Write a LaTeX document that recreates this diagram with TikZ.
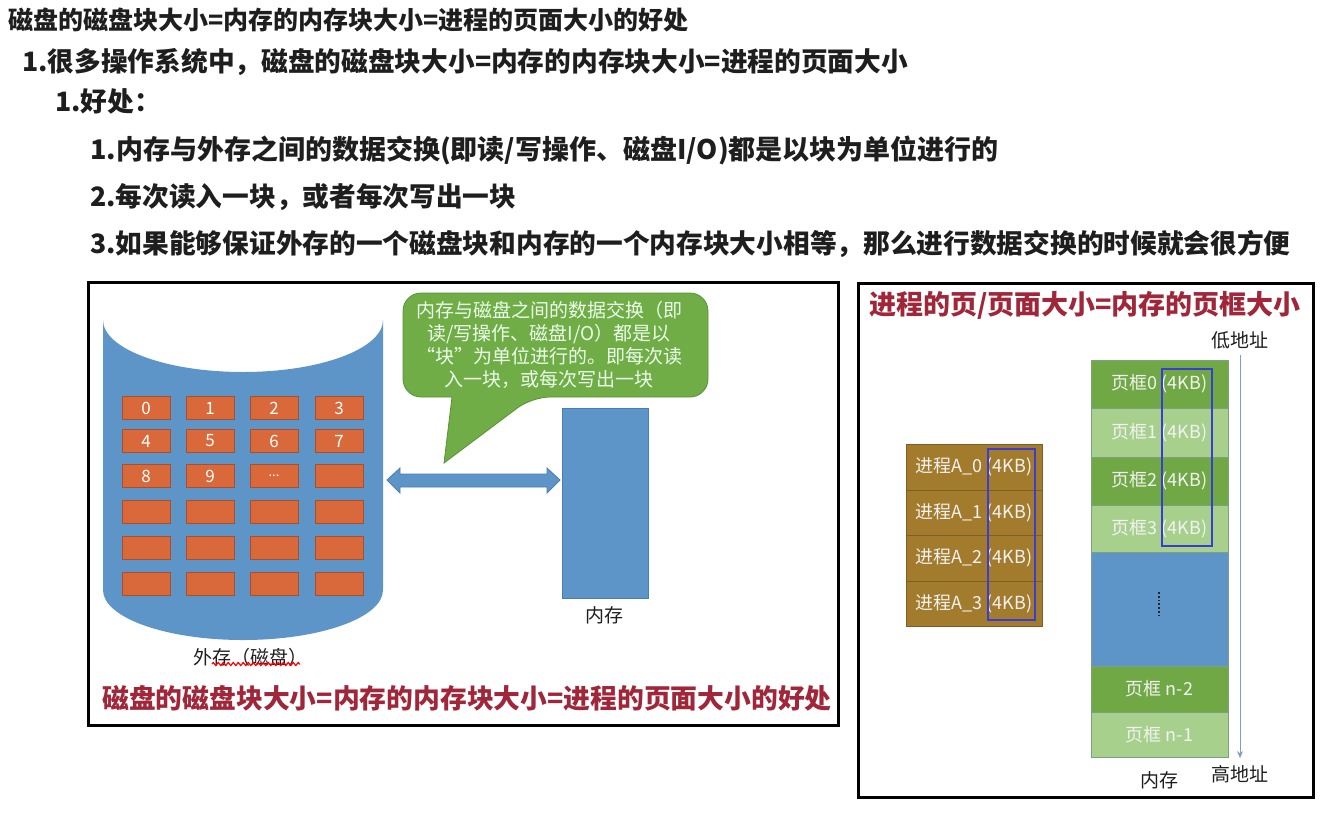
\documentclass[tikz,border=0pt]{standalone}
\usepackage{fontspec}
\setmainfont{Noto Sans CJK SC}
\usetikzlibrary{arrows.meta,decorations.pathmorphing}

\definecolor{diskblue}{HTML}{5E95C8}
\definecolor{diskedge}{HTML}{4A7DB0}
\definecolor{blkorange}{HTML}{D9693B}
\definecolor{blkedge}{HTML}{A9502A}
\definecolor{calloutgreen}{HTML}{70AD47}
\definecolor{calloutedge}{HTML}{5A8F38}
\definecolor{framedark}{HTML}{70A845}
\definecolor{framelight}{HTML}{A8D08D}
\definecolor{frameedge}{HTML}{7F9F80}
\definecolor{procbrown}{HTML}{A37B2C}
\definecolor{procedge}{HTML}{7E5E22}
\definecolor{hlblue}{HTML}{3B3BD6}
\definecolor{titlered}{HTML}{A0263A}
\definecolor{addrline}{HTML}{7F9FBF}
\definecolor{inktext}{HTML}{1E1E1E}

\tikzset{
    heading/.style={anchor=west, font=\bfseries\fontsize{26.7}{28}\selectfont, text=inktext, inner sep=0pt},
    blk/.style={draw=blkedge, fill=blkorange, minimum width=48pt, minimum height=23pt,
        inner sep=0pt, text=white, font=\fontsize{17}{18}\selectfont},
    frame/.style={draw=frameedge, minimum width=137pt, inner sep=0pt,
        text=white!95!black, font=\fontsize{18}{20}\selectfont},
    proc/.style={draw=procedge, fill=procbrown, minimum width=136pt, inner sep=0pt,
        text=white!95!black, font=\fontsize{18}{20}\selectfont},
    plain/.style={font=\fontsize{19}{21}\selectfont, text=inktext, inner sep=2pt},
    redtitle/.style={font=\bfseries\fontsize{26.8}{28}\selectfont, text=titlered, inner sep=0pt},
    hlbox/.style={draw=hlblue, line width=2.6pt},
    addr/.style={draw=addrline, line width=0.9pt, -{Stealth[length=7pt,width=6pt]}}
}

\begin{document}
\begin{tikzpicture}[x=1pt, y=-1pt]
    \useasboundingbox (0,0) rectangle (1321,812);

    % -------------------------------
    % 标题与要点
    % -------------------------------
    \node[heading, font=\bfseries\fontsize{25}{27}\selectfont] (h0) at (8,20) {磁盘的磁盘块大小=内存的内存块大小=进程的页面大小的好处};
    \node[heading] (h1) at (22,62) {1.很多操作系统中，磁盘的磁盘块大小=内存的内存块大小=进程的页面大小};
    \node[heading] (h2) at (55,101) {1.好处：};
    \node[heading, font=\bfseries\fontsize{27}{29}\selectfont] (h3) at (90,150) {1.内存与外存之间的数据交换(即读/写操作、磁盘I/O)都是以块为单位进行的};
    \node[heading] (h4) at (90,197) {2.每次读入一块，或者每次写出一块};
    \node[heading] (h5) at (90,244) {3.如果能够保证外存的一个磁盘块和内存的一个内存块大小相等，那么进行数据交换的时候就会很方便};

    % -------------------------------
    % 左图：外存与内存
    % -------------------------------
    \draw[line width=3pt] (88,282) rectangle (838,725);

    % 磁盘（圆柱）
    \fill[diskblue] (103,320) -- (103,590)
        arc[start angle=180, end angle=0, x radius=140, y radius=50]
        -- (383,320)
        arc[start angle=0, end angle=180, x radius=140, y radius=52] -- cycle;

    % 磁盘块
    \foreach \y [count=\r from 0] in {408,441,476,512,548,584} {
        \foreach \x [count=\c from 0] in {146,210,274,339} {
            \node[blk] (blk\r\c) at (\x,\y) {};
        }
    }
    \foreach \n in {0,...,9} {
        \pgfmathtruncatemacro{\r}{div(\n,4)}
        \pgfmathtruncatemacro{\c}{mod(\n,4)}
        \node[text=white, font=\fontsize{17}{18}\selectfont] at (blk\r\c) {\n};
    }
    \node[text=white, font=\fontsize{13}{14}\selectfont] at (blk22) {...};

    \node[plain] (disk) at (250,657) {外存（磁盘）};
    \draw[red, line width=1.2pt, decorate, decoration={zigzag, amplitude=1.5pt, segment length=5pt}]
        (212,664) -- (300,664);

    % 内存
    \node[draw=diskedge, fill=diskblue, minimum width=86pt, minimum height=190pt, inner sep=0pt]
        (mem) at (605,503) {};
    \node[plain] (memlbl) at (604,615) {内存};

    % 双向箭头
    \filldraw[fill=diskblue, draw=diskedge, line width=0.8pt]
        (387,480) -- (400,468) -- (400,474) -- (547,474) -- (547,468) -- (560,480)
        -- (547,493) -- (547,487) -- (400,487) -- (400,493) -- cycle;

    % 说明气泡
    \filldraw[fill=calloutgreen, draw=calloutedge, line width=0.8pt]
        (555,293) [rounded corners=18pt] -- (708,293) -- (708,397) -- (532,397)
        [sharp corners] -- (444,463) -- (452,397)
        [rounded corners=18pt] -- (403,397) -- (403,293) -- cycle;
    \node[text=white!92!green, font=\fontsize{19}{23.2}\selectfont, align=center]
        (note) at (549,345) {内存与磁盘之间的数据交换（即\\读/写操作、磁盘I/O）都是以\\“块”为单位进行的。即每次读\\入一块，或每次写出一块};

    \node[redtitle] (lefttitle) at (467,698) {磁盘的磁盘块大小=内存的内存块大小=进程的页面大小的好处};

    % -------------------------------
    % 右图：页与页框
    % -------------------------------
    \draw[line width=3pt] (858,283) rectangle (1313,797);
    \node[redtitle, font=\bfseries\fontsize{27}{29}\selectfont] (righttitle) at (1085,305) {进程的页/页面大小=内存的页框大小};

    % 进程的页
    \node[proc, minimum height=46pt] (p0) at (974,467)   {进程A\_0 (4KB)};
    \node[proc, minimum height=45pt] (p1) at (974,512.5) {进程A\_1 (4KB)};
    \node[proc, minimum height=46pt] (p2) at (974,558)   {进程A\_2 (4KB)};
    \node[proc, minimum height=45pt] (p3) at (974,603.5) {进程A\_3 (4KB)};

    % 内存的页框
    \node[frame, fill=framedark,  minimum height=48pt] (f0) at (1159.5,384)   {页框0 (4KB)};
    \node[frame, fill=framelight, minimum height=49pt] (f1) at (1159.5,432.5) {页框1 (4KB)};
    \node[frame, fill=framedark,  minimum height=48pt] (f2) at (1159.5,481)   {页框2 (4KB)};
    \node[frame, fill=framelight, minimum height=47pt] (f3) at (1159.5,528.5) {页框3 (4KB)};
    \node[frame, fill=diskblue,   minimum height=114pt] (fgap) at (1159.5,609) {};
    \node[frame, fill=framedark,  minimum height=46pt] (fn2) at (1159.5,689)  {页框 n-2};
    \node[frame, fill=framelight, minimum height=45pt] (fn1) at (1159.5,734.5) {页框 n-1};
    \draw[line width=1.8pt, dotted, black!85] (1159,592) -- (1159,616);

    % 大小相同的块
    \draw[hlbox] (988,449) rectangle (1035,620);
    \draw[hlbox] (1162,369) rectangle (1212,546);

    % 地址方向
    \node[plain] (lo) at (1240,340) {低地址};
    \node[plain] (hi) at (1240,774) {高地址};
    \node[plain] (memr) at (1159,780) {内存};
    \draw[addr, shorten <=4pt, shorten >=5pt] (lo) -- (hi);

\end{tikzpicture}
\end{document}
